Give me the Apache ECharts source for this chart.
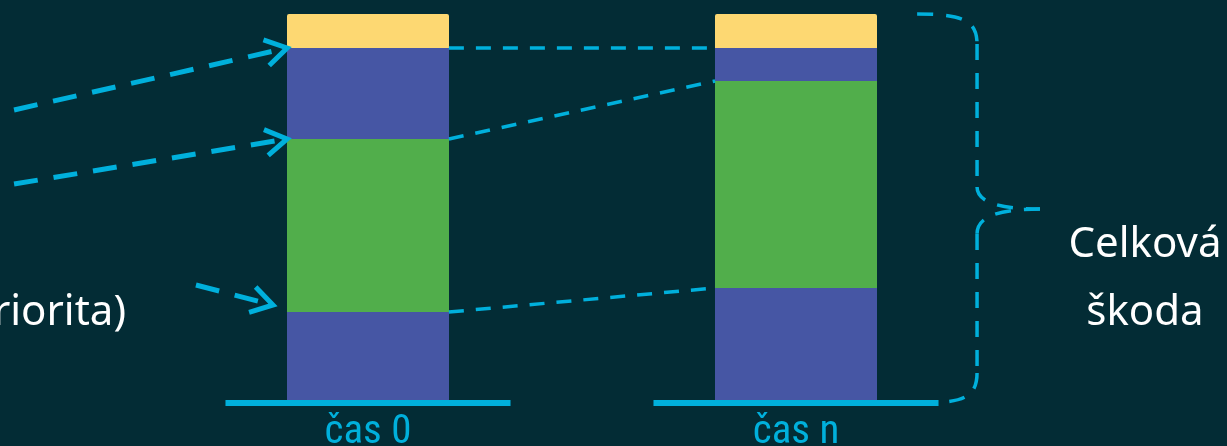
<!DOCTYPE html>
<html>
<head>
<meta charset="utf-8">
<script src="https://cdn.jsdelivr.net/npm/echarts@6/dist/echarts.min.js"></script>
<style>
html,body{margin:0;padding:0;background:#032c35;}
#c{width:1227px;height:446px;}
</style>
</head>
<body>
<div id="c"></div>
<script>
// ---- data ----
const categories = ['čas 0', 'čas n'];
const blueBottom = [88, 112];
const green = [173, 207];
const blueTop = [91, 33];
const yellow = [34, 34];

// annotation arrows (x in category units, y in value units)
const arrowFrom = [[-0.827, 290], [-0.827, 216], [-0.402, 115]];
const arrowTo = [[-0.189, 352], [-0.189, 261], [-0.222, 95]];

// brace anchors
const braceTop = [1.283, 386];
const braceTip = [1.57, 191];
const braceBottom = [1.29, -3];
const braceX = [1.423];

const leftText = 'riorita)';
const braceText = ['Celková', 'škoda'];

// ---- derived ----
const BG = '#032c35', CYAN = '#00b0dc', BLUE = '#4656a4', GREEN = '#51ae4b', YELLOW = '#fdd872';
const cum1 = blueBottom.slice();
const cum2 = cum1.map((v, i) => v + green[i]);
const cum3 = cum2.map((v, i) => v + blueTop[i]);
const half = 0.189;
const connectors = [cum1, cum2, cum3].map(c => [half, c[0], 1 - half, c[1]]);
const baselines = categories.map((c, i) => [i - 0.333, -3, i + 0.333, -3]);
const arrows = arrowFrom.map((f, i) => [f[0], f[1], arrowTo[i][0], arrowTo[i][1]]);

const chart = echarts.init(document.getElementById('c'), null, {renderer: 'canvas'});

function segItem(width, dash) {
  return function (params, api) {
    const a = api.coord([api.value(0), api.value(1)]);
    const b = api.coord([api.value(2), api.value(3)]);
    return {type: 'line', shape: {x1: a[0], y1: a[1], x2: b[0], y2: b[1]},
      style: {stroke: CYAN, lineWidth: width, lineDash: dash, lineCap: 'butt'}};
  };
}

function arrowItem(params, api) {
  const a = api.coord([api.value(0), api.value(1)]);
  const b = api.coord([api.value(2), api.value(3)]);
  const ang = Math.atan2(b[1] - a[1], b[0] - a[0]);
  const L = 25, spread = 0.55;
  const p1 = [b[0] - L * Math.cos(ang - spread), b[1] - L * Math.sin(ang - spread)];
  const p2 = [b[0] - L * Math.cos(ang + spread), b[1] - L * Math.sin(ang + spread)];
  const sEnd = [b[0] - 6 * Math.cos(ang), b[1] - 6 * Math.sin(ang)];
  return {type: 'group', children: [
    {type: 'line', shape: {x1: a[0], y1: a[1], x2: sEnd[0], y2: sEnd[1]},
      style: {stroke: CYAN, lineWidth: 5, lineDash: [24, 16]}},
    {type: 'polyline', shape: {points: [p1, b, p2]},
      style: {stroke: CYAN, lineWidth: 5, fill: null, lineJoin: 'miter'}}
  ]};
}

function braceItem(params, api) {
  const t = api.coord(braceTop);
  const m = api.coord(braceTip);
  const bt = api.coord(braceBottom);
  const x = api.coord([braceX[0], 0])[0];
  const r = 30;
  const st = {stroke: CYAN, lineWidth: 3.5, lineDash: [16, 13], fill: null};
  return {type: 'group', children: [
    {type: 'bezierCurve', shape: {x1: t[0], y1: t[1], cpx1: t[0] + 45, cpy1: t[1], cpx2: x, cpy2: t[1] + 6, x2: x, y2: t[1] + r}, style: st},
    {type: 'line', shape: {x1: x, y1: t[1] + r, x2: x, y2: m[1] - 22}, style: st},
    {type: 'bezierCurve', shape: {x1: x, y1: m[1] - 22, cpx1: x, cpy1: m[1] - 6, cpx2: x + 25, cpy2: m[1], x2: m[0], y2: m[1]}, style: st},
    {type: 'bezierCurve', shape: {x1: m[0], y1: m[1], cpx1: x + 20, cpy1: m[1], cpx2: x, cpy2: m[1] + 8, x2: x, y2: m[1] + 25}, style: st},
    {type: 'line', shape: {x1: x, y1: m[1] + 25, x2: x, y2: bt[1] - r}, style: st},
    {type: 'bezierCurve', shape: {x1: x, y1: bt[1] - r, cpx1: x, cpy1: bt[1] - 4, cpx2: bt[0] + 40, cpy2: bt[1], x2: bt[0], y2: bt[1]}, style: st}
  ]};
}

const barBase = {type: 'bar', stack: 'a', barWidth: 162, xAxisIndex: 0, yAxisIndex: 0,
  itemStyle: {borderWidth: 0}, emphasis: {disabled: true}};

chart.setOption({
  backgroundColor: BG,
  animation: false,
  grid: {left: 154, right: 217, top: 0, bottom: 46, containLabel: false, outerBoundsMode: 'none'},
  xAxis: [
    {type: 'category', data: categories, axisLine: {show: false}, axisTick: {show: false},
      axisLabel: {color: CYAN, fontSize: 41, margin: 12, fontFamily: "'Liberation Sans Narrow', 'Roboto Condensed', 'Roboto', sans-serif"}},
    {type: 'value', min: -0.5, max: 1.5, show: false}
  ],
  yAxis: {type: 'value', min: 0, max: 400, show: false},
  series: [
    Object.assign({}, barBase, {name: 'b1', data: blueBottom, itemStyle: {color: BLUE}}),
    Object.assign({}, barBase, {name: 'g', data: green, itemStyle: {color: GREEN}}),
    Object.assign({}, barBase, {name: 'b2', data: blueTop, itemStyle: {color: BLUE}}),
    Object.assign({}, barBase, {name: 'y', data: yellow, itemStyle: {color: YELLOW, borderRadius: [2, 2, 0, 0]}}),
    {type: 'custom', xAxisIndex: 1, yAxisIndex: 0, data: connectors, renderItem: segItem(3.5, [15, 12]), z: 5, silent: true},
    {type: 'custom', xAxisIndex: 1, yAxisIndex: 0, data: baselines, renderItem: segItem(6, null), z: 6, silent: true},
    {type: 'custom', xAxisIndex: 1, yAxisIndex: 0, data: arrows, renderItem: arrowItem, z: 5, silent: true},
    {type: 'custom', xAxisIndex: 1, yAxisIndex: 0, data: [0], renderItem: braceItem, z: 5, silent: true}
  ],
  graphic: [
    {type: 'text', x: 126, y: 313, style: {text: leftText, fill: '#ffffff', font: "42px 'Noto Sans', sans-serif", textAlign: 'right', textVerticalAlign: 'middle'}},
    {type: 'text', x: 1145, y: 245, style: {text: braceText[0], fill: '#ffffff', font: "42px 'Noto Sans', sans-serif", textAlign: 'center', textVerticalAlign: 'middle'}},
    {type: 'text', x: 1145, y: 313, style: {text: braceText[1], fill: '#ffffff', font: "42px 'Noto Sans', sans-serif", textAlign: 'center', textVerticalAlign: 'middle'}}
  ]
});
</script>
</body>
</html>
